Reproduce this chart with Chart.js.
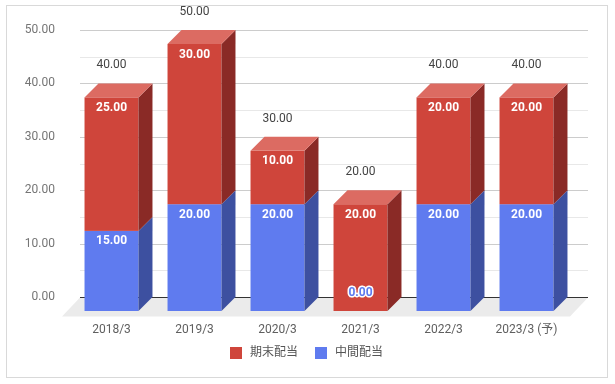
<!DOCTYPE html>
<html>
<head>
<meta charset="utf-8">
<script src="https://cdn.jsdelivr.net/npm/chart.js@4"></script>
<style>
  html, body { margin: 0; padding: 0; background: #fff; }
  #wrap { position: relative; width: 615px; height: 384px; }
  #frame {
    position: absolute; left: 6px; top: 5px; width: 600px; height: 371px;
    border: 1px solid #d9d9d9; pointer-events: none;
  }
</style>
</head>
<body>
<div id="wrap">
  <canvas id="c" width="615" height="384"></canvas>
  <div id="frame"></div>
</div>
<script>
var categories = ['2018/3', '2019/3', '2020/3', '2021/3', '2022/3', '2023/3 (予)'];
var interim = [15, 20, 20, 0, 20, 20];   // 中間配当
var yearEnd = [25, 30, 10, 20, 20, 20];  // 期末配当
var totals = [40, 50, 30, 20, 40, 40];
var yMax = 50;
var yStep = 10;

var DEPTH = 14;
var FONT = "Roboto, 'Noto Sans CJK JP', sans-serif";
var faces = [
  { front: '#5f7bef', side: '#3d50a0', top: '#8298f3' },
  { front: '#cf453b', side: '#8a2a26', top: '#dc6b62' }
];

function fmt(v) { return v.toFixed(2); }

var box3d = {
  id: 'box3d',
  beforeDatasetsDraw: function(chart) {
    var ctx = chart.ctx, a = chart.chartArea, ys = chart.scales.y;
    var y0 = Math.round(ys.getPixelForValue(0)) + 0.5;
    var gl = a.left - 4, gr = a.right + 6;
    ctx.save();

    // floor
    ctx.fillStyle = '#ebebeb';
    ctx.beginPath();
    ctx.moveTo(gl, y0); ctx.lineTo(gr, y0);
    ctx.lineTo(gr - 18, y0 + 19); ctx.lineTo(gl - 18, y0 + 19);
    ctx.closePath(); ctx.fill();

    // grid, major + minor
    var ticks = ys.ticks;
    ctx.lineWidth = 1;
    for (var t = 0; t < ticks.length; t++) {
      var v = ticks[t].value;
      if (t > 0) {
        var ym = Math.round(ys.getPixelForValue((v + ticks[t - 1].value) / 2)) + 0.5;
        ctx.strokeStyle = '#e8e8e8';
        ctx.beginPath(); ctx.moveTo(gl, ym); ctx.lineTo(gr, ym); ctx.stroke();
      }
      if (v === 0) continue;
      var yp = Math.round(ys.getPixelForValue(v)) + 0.5;
      ctx.strokeStyle = '#cccccc';
      ctx.beginPath(); ctx.moveTo(gl, yp); ctx.lineTo(gr, yp); ctx.stroke();
    }
    ctx.strokeStyle = '#333333';
    ctx.beginPath(); ctx.moveTo(gl, y0); ctx.lineTo(gr, y0); ctx.stroke();

    // bars
    var metas = chart.data.datasets.map(function(d, i) { return chart.getDatasetMeta(i); });
    for (var i = 0; i < categories.length; i++) {
      var topIdx = -1;
      metas.forEach(function(m, d) {
        var el = m.data[i];
        if (el.base - el.y > 0.5) topIdx = d;
      });
      metas.forEach(function(m, d) {
        var el = m.data[i];
        if (el.base - el.y <= 0.5) return;
        var f = faces[d];
        var xl = el.x - el.width / 2 - DEPTH, xr = el.x + el.width / 2 - DEPTH;
        var yt = el.y + DEPTH, yb = el.base + DEPTH;
        ctx.fillStyle = f.front;
        ctx.fillRect(xl, yt, xr - xl, yb - yt);
        ctx.fillStyle = f.side;
        ctx.beginPath();
        ctx.moveTo(xr, yt); ctx.lineTo(xr + DEPTH, yt - DEPTH);
        ctx.lineTo(xr + DEPTH, yb - DEPTH); ctx.lineTo(xr, yb);
        ctx.closePath(); ctx.fill();
        if (d === topIdx) {
          ctx.fillStyle = f.top;
          ctx.beginPath();
          ctx.moveTo(xl, yt); ctx.lineTo(xl + DEPTH, yt - DEPTH);
          ctx.lineTo(xr + DEPTH, yt - DEPTH); ctx.lineTo(xr, yt);
          ctx.closePath(); ctx.fill();
        }
      });
    }
    ctx.restore();
    return false;
  },
  afterDraw: function(chart) {
    var ctx = chart.ctx;
    var metas = chart.data.datasets.map(function(d, i) { return chart.getDatasetMeta(i); });
    ctx.save();
    ctx.textAlign = 'center';
    ctx.textBaseline = 'middle';

    // values inside the bars
    ctx.font = 'bold 12px ' + FONT;
    metas.forEach(function(m, d) {
      var vals = chart.data.datasets[d].data;
      m.data.forEach(function(el, i) {
        var cx = el.x - DEPTH;
        var txt = fmt(vals[i]);
        if (vals[i] === 0) {
          var yz = el.base + DEPTH - 18;
          ctx.lineWidth = 3; ctx.strokeStyle = '#ffffff'; ctx.lineJoin = 'round';
          ctx.strokeText(txt, cx, yz);
          ctx.fillStyle = faces[d].front;
          ctx.fillText(txt, cx, yz);
        } else {
          ctx.fillStyle = '#ffffff';
          ctx.fillText(txt, cx, el.y + DEPTH + 10.5);
        }
      });
    });

    // totals above the stacks
    ctx.font = '12px ' + FONT;
    var topMeta = metas[metas.length - 1];
    topMeta.data.forEach(function(el, i) {
      var cx = el.x - DEPTH, cy = el.y - 18;
      var txt = fmt(totals[i]);
      var w = ctx.measureText(txt).width;
      ctx.fillStyle = '#ffffff';
      ctx.fillRect(cx - w / 2 - 3, cy - 7, w + 6, 14);
      ctx.fillStyle = '#444444';
      ctx.fillText(txt, cx, cy);
    });

    // legend (期末配当 first)
    var order = [1, 0];
    ctx.textAlign = 'left';
    ctx.font = '12px ' + FONT;
    var widths = order.map(function(d) { return ctx.measureText(chart.data.datasets[d].label).width; });
    var total = 0;
    widths.forEach(function(w) { total += 12 + 8 + w; });
    total += 17 * (order.length - 1);
    var lx = 306.5 - total / 2, ly = 353;
    order.forEach(function(d, k) {
      ctx.fillStyle = faces[d].front;
      ctx.fillRect(lx, ly - 6, 12, 12);
      ctx.fillStyle = '#555555';
      ctx.fillText(chart.data.datasets[d].label, lx + 20, ly);
      lx += 20 + widths[k] + 17;
    });
    ctx.restore();
  }
};

new Chart(document.getElementById('c'), {
  type: 'bar',
  data: {
    labels: categories,
    datasets: [
      { label: '中間配当', data: interim, backgroundColor: faces[0].front, barPercentage: 0.65, categoryPercentage: 1.0 },
      { label: '期末配当', data: yearEnd, backgroundColor: faces[1].front, barPercentage: 0.65, categoryPercentage: 1.0 }
    ]
  },
  options: {
    responsive: false,
    animation: false,
    layout: { padding: { left: 0, right: 33, top: 30, bottom: 0 } },
    plugins: { legend: { display: false }, tooltip: { enabled: false } },
    scales: {
      x: {
        stacked: true, offset: true,
        grid: { display: false, drawTicks: false }, border: { display: false },
        ticks: { padding: 26, labelOffset: -DEPTH, color: '#5f5f5f', font: { family: FONT, size: 12 }, maxRotation: 0, autoSkip: false },
        afterFit: function(s) { s.height = 87; }
      },
      y: {
        stacked: true, min: 0, max: yMax,
        grid: { display: false, drawTicks: false }, border: { display: false },
        ticks: { stepSize: yStep, padding: 29, color: '#757575', font: { family: FONT, size: 12 }, callback: function(v) { return fmt(v); } },
        afterFit: function(s) { s.width = 84; s.paddingTop = 0; s.paddingBottom = 0; }
      }
    }
  },
  plugins: [box3d]
});
</script>
</body>
</html>
